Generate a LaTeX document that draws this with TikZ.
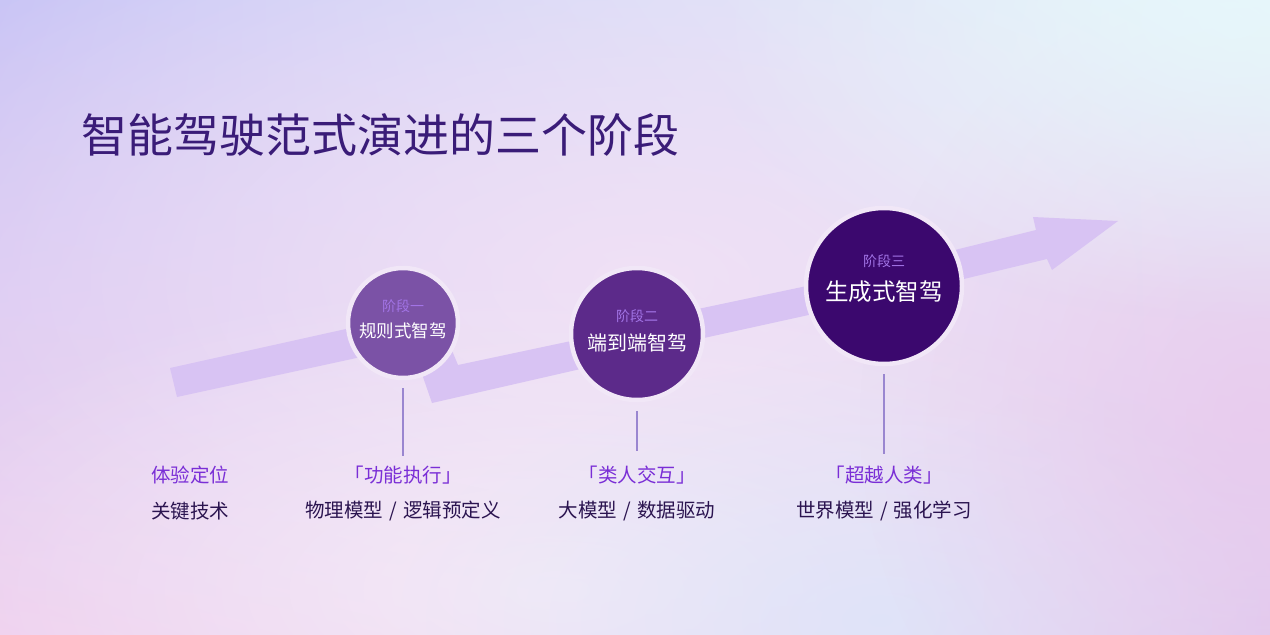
\documentclass[tikz,border=0pt]{standalone}
\usepackage{fontspec}
\setmainfont{Noto Sans CJK SC}
\usetikzlibrary{fadings,shadings}
\tikzfading[name=blobfade, inner color=transparent!0, outer color=transparent!100]
\definecolor{bgTL}{HTML}{C4C1F5}
\definecolor{bgTR}{HTML}{E6F8FB}
\definecolor{bgBL}{HTML}{EFCDEE}
\definecolor{bgBR}{HTML}{E1C8EE}
\definecolor{blobpink}{HTML}{F2E2F6}
\definecolor{blobwhite}{HTML}{F7F1F9}
\definecolor{blobblue}{HTML}{DCE5FA}
\definecolor{blobrpink}{HTML}{E9C6EC}
\definecolor{bandc}{HTML}{D8C3F3}
\definecolor{haloc}{HTML}{F1E7F7}
\definecolor{cA}{HTML}{7B52A6}
\definecolor{cB}{HTML}{5C2A8A}
\definecolor{cC}{HTML}{3B086E}
\definecolor{titlec}{HTML}{3A1C78}
\definecolor{stagec}{HTML}{A274E6}
\definecolor{toprowc}{HTML}{7A2ED6}
\definecolor{botrowc}{HTML}{2B1450}
\definecolor{vlinec}{HTML}{9A86D0}
\newcommand{\slashsep}{\hspace{6pt}/\hspace{6pt}}
\tikzset{
  band/.style={fill=bandc},
  blob/.style={path fading=blobfade},
  stagecircle/.style={circle, draw=haloc, line width=4.5pt, inner sep=0pt},
  stagelab/.style={text=stagec, font=\fontsize{14}{16}\selectfont, inner sep=0pt},
  mainlab/.style={text=white, inner sep=0pt},
  toprow/.style={text=toprowc, font=\fontsize{19.5}{22}\selectfont, inner sep=0pt},
  botrow/.style={text=botrowc, font=\fontsize{19.5}{22}\selectfont, inner sep=0pt},
  vline/.style={draw=vlinec, line width=1.2pt},
  titlestyle/.style={text=titlec, font=\fontsize{46}{50}\selectfont, inner sep=0pt, anchor=west}
}
\begin{document}
\begin{tikzpicture}[x=1pt, y=-1pt]
\useasboundingbox (0,0) rectangle (1270,635);
% background
\shade[upper left=bgTL, upper right=bgTR, lower left=bgBL, lower right=bgBR] (0,0) rectangle (1270,635);
\fill[blobpink, blob, opacity=0.9] (640,280) ellipse (960pt and 500pt);
\fill[blobwhite, blob, opacity=0.8] (560,590) ellipse (720pt and 320pt);
\fill[blobblue, blob, opacity=0.8] (880,620) ellipse (480pt and 260pt);
\fill[blobrpink, blob, opacity=0.7] (1260,420) ellipse (400pt and 440pt);
\fill[bgTR, blob, opacity=0.8] (1230,20) ellipse (520pt and 300pt);
% bands
\fill[band] (170,368) -- (400,317) -- (407,347) -- (177,397) -- cycle;
\fill[band] (423,377) -- (425,350) -- (448,341) -- (458,365) -- (590,337) -- (598,365) -- (432,403) -- cycle;
\fill[band] (660,317) -- (840,279) -- (845,307) -- (663,347) -- cycle;
\fill[band] (910,261) -- (1036,230) -- (1033,217) -- (1118,221) -- (1052,270) -- (1047,259) -- (918,290) -- cycle;
% title
\node[titlestyle] (title) at (81,135) {智能驾驶范式演进的三个阶段};
% circles
\node[stagecircle, fill=cA, minimum size=110pt] (c1) at (403,323) {};
\node[stagecircle, fill=cB, minimum size=132pt] (c2) at (637,334) {};
\node[stagecircle, fill=cC, minimum size=156pt] (c3) at (884,286) {};
\node[stagelab] (s1) at ([yshift=17pt]c1.center) {阶段一};
\node[mainlab, font=\fontsize{17.5}{20}\selectfont] (m1) at ([yshift=-7.5pt]c1.center) {规则式智驾};
\node[stagelab] (s2) at ([yshift=18pt]c2.center) {阶段二};
\node[mainlab, font=\fontsize{20}{23}\selectfont] (m2) at ([yshift=-9pt]c2.center) {端到端智驾};
\node[stagelab] (s3) at ([yshift=25pt]c3.center) {阶段三};
\node[mainlab, font=\fontsize{23.5}{27}\selectfont] (m3) at ([yshift=-6pt]c3.center) {生成式智驾};
% bottom rows
\node[toprow] (p0) at (190,475) {体验定位};
\node[botrow] (k0) at (190,511) {关键技术};
\node[toprow] (p1) at (403,475) {「功能执行」};
\node[botrow] (k1) at (403,511) {物理模型\slashsep 逻辑预定义};
\node[toprow] (p2) at (637,475) {「类人交互」};
\node[botrow] (k2) at (637,511) {大模型\slashsep 数据驱动};
\node[toprow] (p3) at (884,475) {「超越人类」};
\node[botrow] (k3) at (884,511) {世界模型\slashsep 强化学习};
% connectors
\draw[vline] ([yshift=-8pt]c1.south) -- ([yshift=10pt]p1.north);
\draw[vline] ([yshift=-9pt]c2.south) -- ([yshift=15pt]p2.north);
\draw[vline] ([yshift=-8pt]c3.south) -- ([yshift=12pt]p3.north);
\end{tikzpicture}
\end{document}
